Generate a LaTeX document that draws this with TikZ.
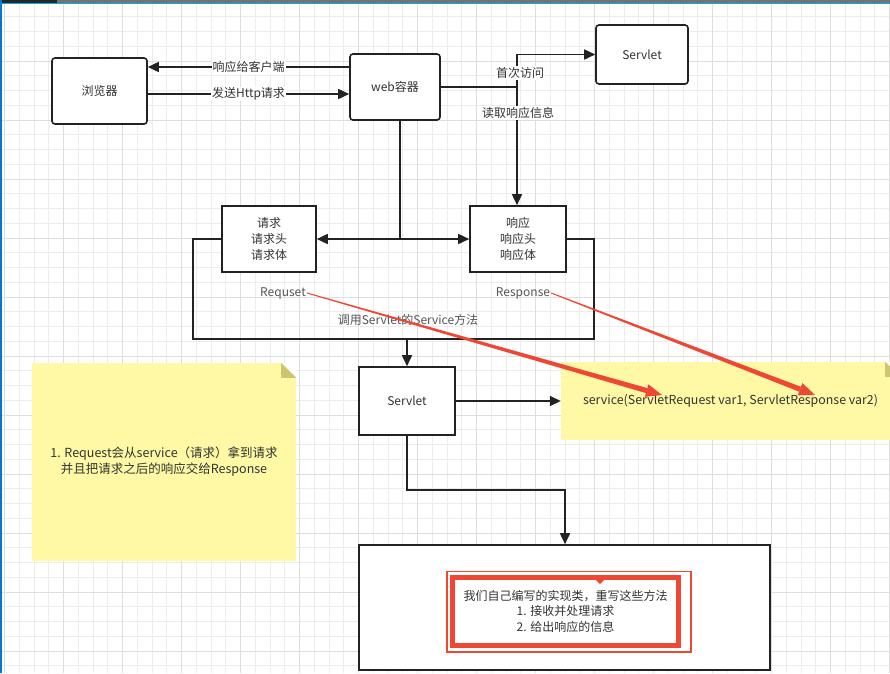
\documentclass[tikz,border=0pt]{standalone}
\usepackage{fontspec}
\setmainfont{Noto Sans CJK SC}
\definecolor{boxline}{RGB}{34,34,34}
\definecolor{txtgrey}{RGB}{51,51,51}
\definecolor{lblgrey}{RGB}{85,85,85}
\definecolor{noteyel}{RGB}{255,249,165}
\definecolor{notefold}{RGB}{205,198,112}
\definecolor{annored}{RGB}{238,72,52}
\definecolor{gridminor}{RGB}{236,236,236}
\definecolor{gridmajor}{RGB}{222,222,222}
\definecolor{selblue}{RGB}{0,120,215}
\usetikzlibrary{arrows.meta,calc}

\begin{document}
\begin{tikzpicture}[x=1pt, y=-1pt,
  rbox/.style={rectangle, rounded corners=3pt, draw=boxline, line width=1.6pt,
               fill=white, font=\fontsize{12}{16}\selectfont, align=center, text=txtgrey},
  sbox/.style={rectangle, draw=boxline, line width=1.6pt,
               fill=white, font=\fontsize{12}{16}\selectfont, align=center, text=txtgrey},
  lbl/.style={fill=white, inner sep=1pt, font=\fontsize{12}{14}\selectfont, text=txtgrey},
  txt/.style={inner sep=1pt, font=\fontsize{12}{14}\selectfont, text=lblgrey},
  note/.style={rectangle, fill=noteyel, font=\fontsize{12}{16}\selectfont, align=center, text=txtgrey},
  conn/.style={draw=boxline, line width=1.6pt, -{Triangle[length=11pt,width=10pt]}},
  plain/.style={draw=boxline, line width=1.6pt}
]
\useasboundingbox (0,0) rectangle (890,673);
\clip (0,0) rectangle (890,673);

% Background grid
\fill[white] (0,0) rectangle (890,673);
\foreach \g in {0,...,60} {
  \draw[gridminor, line width=0.8pt] (4.4+14.75*\g,0) -- (4.4+14.75*\g,673);
  \draw[gridminor, line width=0.8pt] (0,2+14.75*\g) -- (890,2+14.75*\g);
}
\foreach \g in {0,...,15} {
  \draw[gridmajor, line width=0.9pt] (4.4+59*\g,0) -- (4.4+59*\g,673);
  \draw[gridmajor, line width=0.9pt] (0,2+59*\g) -- (890,2+59*\g);
}
\fill[black!55] (0,0) rectangle (890,3);
\fill[black!85] (0,0) rectangle (57,3);
\draw[selblue!60!cyan, line width=1pt] (0,3.8) -- (890,3.8);
\draw[selblue, line width=1.5pt] (0.75,0) -- (0.75,673);

% Top row
\node[rbox, minimum width=95pt, minimum height=66pt] (brw)    at (99.5,91)  {浏览器};
\node[rbox, minimum width=90pt, minimum height=66pt] (web)    at (395,87)   {web容器};
\node[rbox, minimum width=92pt, minimum height=59pt] (srvTop) at (642,54.5) {Servlet};

% Request / response
\node[sbox, minimum width=94pt, minimum height=66pt] (req)  at (269,239) {请求\\请求头\\请求体};
\node[sbox, minimum width=96pt, minimum height=66pt] (resp) at (518,239) {响应\\响应头\\响应体};

% Servlet and implementation
\node[sbox, minimum width=96pt, minimum height=68pt]   (srvMid) at (407,401)     {Servlet};
\node[sbox, minimum width=411pt, minimum height=125pt] (impl)   at (564.5,607.5) {};

% Notes
\node[note, minimum width=264pt, minimum height=198pt, font=\fontsize{12.5}{16}\selectfont] (lnote) at (164,462)
  {1. Request会从service（请求）拿到请求\\并且把请求之后的响应交给Response};
\node[note, minimum width=339pt, minimum height=78pt, font=\fontsize{12.4}{16}\selectfont] (rnote) at (730.5,401)
  {service(ServletRequest var1, ServletResponse var2)};
\fill[white] ([xshift=-15pt]lnote.north east) -- (lnote.north east) -- ([yshift=-15pt]lnote.north east) -- cycle;
\fill[notefold] ([xshift=-15pt]lnote.north east) -- ([xshift=-15pt,yshift=-15pt]lnote.north east) -- ([yshift=-15pt]lnote.north east) -- cycle;
\fill[white] ([xshift=-15pt]rnote.north east) -- (rnote.north east) -- ([yshift=-15pt]rnote.north east) -- cycle;
\fill[notefold] ([xshift=-15pt]rnote.north east) -- ([xshift=-15pt,yshift=-15pt]rnote.north east) -- ([yshift=-15pt]rnote.north east) -- cycle;

% Browser <-> container
\draw[conn] ([yshift=20pt]web.west) -- ([yshift=20pt]web.west -| brw.east)
  node[lbl, pos=0.5] (lresp) {响应给客户端};
\draw[conn] ([yshift=-3pt]brw.east) -- ([yshift=-3pt]brw.east -| web.west)
  node[lbl, pos=0.5] (lsend) {发送Http请求};

% Container -> servlet, read response
\coordinate (fork) at (517,87);
\draw[conn] (web.east) -- (fork) |- (srvTop.west);
\draw[conn] (fork) -- (fork |- resp.north);
\node[lbl] (lfirst) at (520,73)  {首次访问};
\node[lbl] (lread)  at (518,113) {读取响应信息};

% Container -> request / response
\coordinate (split) at (400,239);
\draw[plain] (split |- web.south) -- (split);
\draw[conn] (split) -- (req.east);
\draw[conn] (split) -- (resp.west);

% Service frame
\coordinate (svcL) at (193,339);
\coordinate (svcR) at (594,339);
\draw[plain] (req.west) -| (svcL) -- (svcR) |- (resp.east);
\node[txt] (rqlbl)  at (283,293) {Requset};
\node[txt] (rsplbl) at (523,293) {Response};
\node[txt] (svclbl) at (408,320) {调用Servlet的Service方法};

% Down to servlet and on
\coordinate (svcOut) at (407,339);
\draw[conn] (svcOut) -- (srvMid.north);
\draw[conn] (srvMid.east) -- (rnote.west);
\coordinate (bend) at (565,490);
\draw[conn] (srvMid.south) |- (bend) -- (bend |- impl.north);

% Highlighted text
\draw[annored, line width=1.5pt] (447,571.5) rectangle (691,652);
\node[draw=annored, line width=5pt, minimum width=226pt, minimum height=68.5pt,
      font=\fontsize{12}{15.5}\selectfont, align=center, text=txtgrey, fill=white] (implTxt) at (565.5,611.25)
  {我们自己编写的实现类，重写这些方法\\1. 接收并处理请求\\2. 给出响应的信息};
\fill[annored] (594,578) -- (606,578) -- (600,584) -- cycle;

% Red annotation arrows
\coordinate (rqTip) at (662,395);
\coordinate (rsTip) at (815,395);
\coordinate (rqS) at ($(rqTip)!16pt!(rqlbl.east)$);
\coordinate (rsS) at ($(rsTip)!16pt!(rsplbl.east)$);
\fill[annored] ($(rqlbl.east)!0.5pt!90:(rqS)$) -- ($(rqS)!2.6pt!90:(rqTip)$)
  -- ($(rqS)!2.6pt!-90:(rqTip)$) -- ($(rqlbl.east)!0.5pt!-90:(rqS)$) -- cycle;
\fill[annored] (rqTip) -- ($(rqS)!6.5pt!90:(rqTip)$) -- ($(rqS)!6.5pt!-90:(rqTip)$) -- cycle;
\fill[annored] ($(rsplbl.east)!0.5pt!90:(rsS)$) -- ($(rsS)!2.6pt!90:(rsTip)$)
  -- ($(rsS)!2.6pt!-90:(rsTip)$) -- ($(rsplbl.east)!0.5pt!-90:(rsS)$) -- cycle;
\fill[annored] (rsTip) -- ($(rsS)!6.5pt!90:(rsTip)$) -- ($(rsS)!6.5pt!-90:(rsTip)$) -- cycle;
\end{tikzpicture}
\end{document}
